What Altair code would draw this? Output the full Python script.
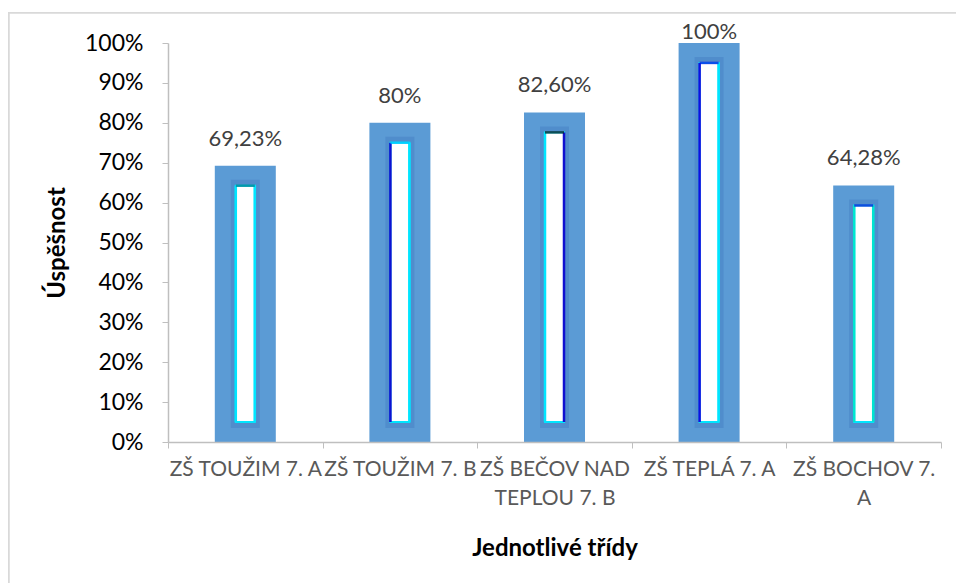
import altair as alt
import pandas as pd

categories = ["ZŠ TOUŽIM 7. A", "ZŠ TOUŽIM 7. B", "ZŠ BEČOV NAD TEPLOU 7. B", "ZŠ TEPLÁ 7. A", "ZŠ BOCHOV 7. A"]
values = [0.6923, 0.80, 0.826, 1.00, 0.6428]
value_labels = ["69,23%", "80%", "82,60%", "100%", "64,28%"]
y_ticks = [0.0, 0.1, 0.2, 0.3, 0.4, 0.5, 0.6, 0.7, 0.8, 0.9, 1.0]

df = pd.DataFrame({"trida": categories, "v": values, "lab": value_labels})

# styling of the inner edges (per bar)
left_edge = ["#00E5FF", "#1010D0", "#00E5FF", "#1010E0", "#00E5D0"]
right_edge = ["#00E5FF", "#00E5FF", "#1010D0", "#00E5FF", "#00E5D0"]
top_edge = ["#007A8A", "#00C8FF", "#101010", "#1010E0", "#1010D0"]

FONT = "Lato"
GRAY = "#595959"

label_expr = ("datum.label == 'ZŠ BEČOV NAD TEPLOU 7. B' ? ['ZŠ BEČOV NAD', 'TEPLOU 7. B'] : "
              "datum.label == 'ZŠ BOCHOV 7. A' ? ['ZŠ BOCHOV 7.', 'A'] : datum.label")

x_axis = alt.Axis(title="Jednotlivé třídy", labelAngle=0, labelExpr=label_expr,
                  labelFont=FONT, labelFontSize=21, labelColor=GRAY, labelLineHeight=29,
                  labelBaseline="top", labelPadding=10, labelOverlap=False,
                  tickBand="extent", tickSize=6, tickColor="#BFBFBF",
                  domainColor="#BFBFBF", domainWidth=1.5, zindex=1,
                  titleFont=FONT, titleFontSize=24, titleFontWeight="bold", titleColor="black",
                  titleY=106, titleBaseline="middle")
x_scale = alt.Scale(paddingInner=0, paddingOuter=0)
y_scale = alt.Scale(domain=[0, 1], nice=False)
y_axis = alt.Axis(title="Úspěšnost", format=".0%", values=y_ticks, tickCount=11,
                  labelFont=FONT, labelFontSize=23, labelColor="black", labelPadding=19,
                  labelOverlap=False, labelBaseline="middle",
                  tickSize=6, tickColor="#BFBFBF", domainColor="#BFBFBF", domainWidth=1.5,
                  grid=False, zindex=1, titleFont=FONT, titleFontSize=24, titleFontWeight="bold",
                  titleColor="black", titleX=-111, titleY=199.5, titleBaseline="middle", titleAngle=-90)

base = alt.Chart(df)
xs = alt.X("trida:N", sort=categories, scale=x_scale, axis=x_axis)


def yq(field):
    return alt.Y(field, scale=y_scale, axis=y_axis)


frame = base.mark_rect(fill="white", stroke="#D9D9D9", strokeWidth=1.5).encode(
    x=alt.value(-159), x2=alt.value(900), y=alt.value(-30), y2=alt.value(600))

outer = base.mark_bar(size=61, color="#5B9BD5").encode(x=xs, y=yq("v:Q"))

glow = base.transform_calculate(lo="0.035", hi="datum.v - 0.035").mark_bar(
    size=29, color="#4F8CCB", opacity=0.9).encode(x=xs, y=yq("lo:Q"), y2="hi:Q")

inner = base.transform_calculate(lo="0.05", hi="datum.v - 0.05").mark_bar(
    size=19, color="white", stroke="#00E5FF", strokeWidth=2).encode(x=xs, y=yq("lo:Q"), y2="hi:Q")

edges = base.transform_calculate(lo="0.05", hi="datum.v - 0.05")


def edge(offset, colors, horizontal=False):
    enc = dict(x=xs, color=alt.Color("trida:N", scale=alt.Scale(domain=categories, range=colors), legend=None))
    if horizontal:
        return edges.mark_tick(orient="horizontal", size=19, thickness=2.5).encode(y=yq("hi:Q"), **enc)
    return edges.mark_rule(strokeWidth=2.5, xOffset=offset).encode(y=yq("lo:Q"), y2="hi:Q", **enc)


left = edge(-9.5, left_edge)
right = edge(9.5, right_edge)
top = edge(0, top_edge, horizontal=True)

text = base.transform_calculate(ly="min(datum.v + 0.068, 1.028)").mark_text(
    font=FONT, fontSize=22, color="#404040", baseline="middle").encode(x=xs, y=yq("ly:Q"), text="lab:N")

chart = alt.layer(frame, outer, glow, inner, left, right, top, text).resolve_scale(color="independent").properties(
    width=773, height=399,
    autosize=alt.AutoSizeParams(type="none"),
    padding={"left": 168, "top": 43, "right": 15, "bottom": 141},
).configure_view(stroke=None).configure(background="white")

chart.save("out.html", embed_options={"renderer": "svg", "actions": False})
